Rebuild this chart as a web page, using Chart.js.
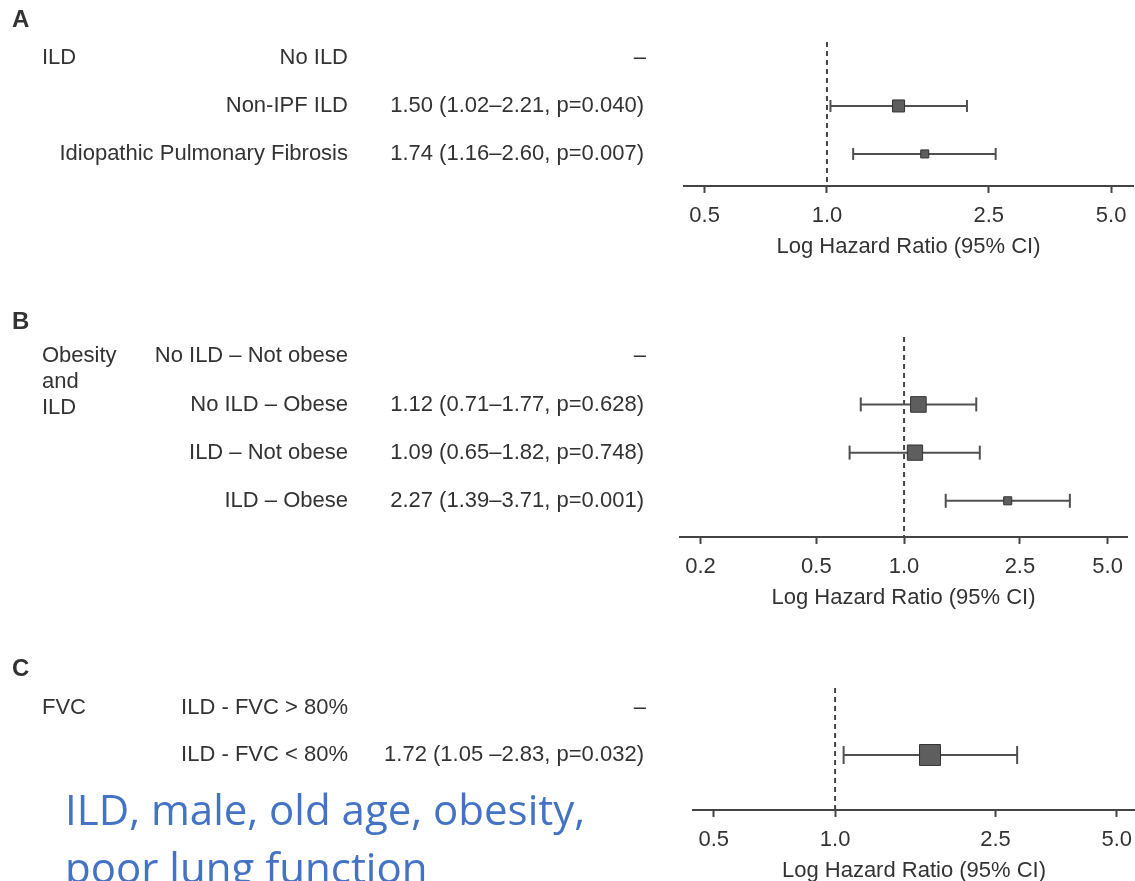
<!DOCTYPE html>
<html>
<head>
<meta charset="utf-8">
<title>Hazard ratio forest plots</title>
<script src="https://cdn.jsdelivr.net/npm/chart.js@4.4.1/dist/chart.umd.min.js"></script>
<style>
  html, body { margin: 0; padding: 0; background: #fff; overflow: hidden; }
  body { width: 1135px; height: 881px; position: relative; }
  canvas { position: absolute; left: 0; }
  #note {
    position: absolute; left: 65px; top: 780px;
    font-family: "Open Sans", sans-serif; font-size: 42px; line-height: 58px;
    color: #4472c4; white-space: nowrap;
  }
</style>
</head>
<body>
<canvas id="chartA" width="1135" height="280" style="top:0px"></canvas>
<canvas id="chartB" width="1135" height="330" style="top:290px"></canvas>
<canvas id="chartC" width="1135" height="260" style="top:640px"></canvas>
<div id="note">ILD, male, old age, obesity,<br>poor lung function</div>

<script>
// =============== DATA ===============
// A - ILD
const rowsA = ['No ILD', 'Non-IPF ILD', 'Idiopathic Pulmonary Fibrosis'];
const hrA = [null, 1.50, 1.74];
const loA = [null, 1.02, 1.16];
const hiA = [null, 2.21, 2.60];
const pA = [null, 0.040, 0.007];
const ticksA = [0.5, 1.0, 2.5, 5.0];

// B - obesity and ILD
const rowsB = ['No ILD – Not obese', 'No ILD – Obese', 'ILD – Not obese', 'ILD – Obese'];
const hrB = [null, 1.12, 1.09, 2.27];
const loB = [null, 0.71, 0.65, 1.39];
const hiB = [null, 1.77, 1.82, 3.71];
const pB = [null, 0.628, 0.748, 0.001];
const ticksB = [0.2, 0.5, 1.0, 2.5, 5.0];

// C - FVC
const rowsC = ['ILD - FVC > 80%', 'ILD - FVC < 80%'];
const hrC = [null, 1.72];
const loC = [null, 1.05];
const hiC = [null, 2.83];
const pC = [null, 0.032];
const ticksC = [0.5, 1.0, 2.5, 5.0];

const AXIS_TITLE = 'Log Hazard Ratio (95% CI)';
// ====================================

const TEXT = '#333';
const LINE = '#505050';
const FONT = '"Liberation Sans", Arial, Helvetica, sans-serif';
const AXIS_H = 69.4; // measured height of the x axis box (ticks + labels + title)

const panels = [
  { id: 'chartA', letter: 'A', group: ['ILD'], rows: rowsA, hr: hrA, lo: loA, hi: hiA, p: pA,
    ticks: ticksA, sep: '–', top: 0, height: 280,
    area: { left: 684, right: 1133, top: 42, bottom: 186 },
    xMin: 0.445, xMax: 5.66, yMin: -0.333, yMax: 2.667,
    box: [8.5, 5.7], cap: 6, letterY: 20 },
  { id: 'chartB', letter: 'B', group: ['Obesity', 'and', 'ILD'], rows: rowsB, hr: hrB, lo: loB, hi: hiB, p: pB,
    ticks: ticksB, sep: '–', top: 290, height: 330,
    area: { left: 680, right: 1127, top: 337, bottom: 537 },
    xMin: 0.170, xMax: 5.83, yMin: -0.4, yMax: 3.75,
    box: [11, 10.8, 5.7], cap: 7, letterY: 32 },
  { id: 'chartC', letter: 'C', group: ['FVC'], rows: rowsC, hr: hrC, lo: loC, hi: hiC, p: pC,
    ticks: ticksC, sep: ' –', top: 640, height: 260,
    area: { left: 693, right: 1135, top: 688, bottom: 810 },
    xMin: 0.444, xMax: 5.55, yMin: -0.426, yMax: 2.17,
    box: [14.8], cap: 9, letterY: 29 }
];

// Left-hand table (letter, group, subgroup label, HR text), aligned to the y scale rows
function tablePlugin(P) {
  return {
    id: 'forestTable',
    afterDraw(chart) {
      const ctx = chart.ctx;
      const y = chart.scales.y;
      ctx.save();
      ctx.fillStyle = TEXT;
      ctx.textBaseline = 'middle';

      ctx.font = 'bold 24px ' + FONT;
      ctx.textAlign = 'left';
      ctx.fillText(P.letter, 12, P.letterY);

      ctx.font = '22px ' + FONT;
      const y0 = y.getPixelForValue(0);
      P.group.forEach((g, k) => ctx.fillText(g, 42, y0 + k * 26));

      P.rows.forEach((label, i) => {
        const py = y.getPixelForValue(i);
        ctx.textAlign = 'right';
        ctx.fillText(label, 348, py);
        if (P.hr[i] == null) {
          ctx.fillText('–', 646, py);
        } else {
          const txt = P.hr[i].toFixed(2) + ' (' + P.lo[i].toFixed(2) + P.sep + P.hi[i].toFixed(2) +
                      ', p=' + P.p[i].toFixed(3) + ')';
          ctx.fillText(txt, 644, py);
        }
      });
      ctx.restore();
    }
  };
}

function buildChart(P) {
  const ctx = document.getElementById(P.id).getContext('2d');
  const idx = P.hr.map((v, i) => i).filter(i => P.hr[i] != null);

  const datasets = [];
  // point estimates (squares)
  datasets.push({
    data: idx.map(i => ({ x: P.hr[i], y: i })),
    pointStyle: 'rect',
    pointRadius: P.box,
    pointBackgroundColor: '#5e5e5e',
    pointBorderColor: '#333',
    pointBorderWidth: 1,
    order: 0
  });
  // confidence intervals with end caps
  idx.forEach(i => {
    datasets.push({
      data: [{ x: P.lo[i], y: i }, { x: P.hi[i], y: i }],
      showLine: true,
      borderColor: LINE,
      borderWidth: 2,
      pointStyle: 'line',
      pointRotation: 90,
      pointRadius: P.cap,
      pointBorderColor: LINE,
      pointBorderWidth: 2,
      order: 1
    });
  });
  // reference line at HR = 1
  datasets.push({
    data: [{ x: 1, y: P.yMin }, { x: 1, y: P.yMax }],
    showLine: true,
    borderColor: '#444',
    borderWidth: 2,
    borderDash: [5, 4],
    pointRadius: 0,
    order: 2
  });

  const relBottom = P.area.bottom - P.top;

  return new Chart(ctx, {
    type: 'scatter',
    data: { datasets: datasets },
    options: {
      responsive: false,
      animation: false,
      devicePixelRatio: 1,
      events: [],
      layout: {
        autoPadding: false,
        padding: {
          left: P.area.left,
          right: 1135 - P.area.right,
          top: P.area.top - P.top,
          bottom: P.height - relBottom - AXIS_H
        }
      },
      scales: {
        x: {
          type: 'logarithmic',
          position: 'bottom',
          min: P.xMin,
          max: P.xMax,
          afterBuildTicks: s => { s.ticks = P.ticks.map(v => ({ value: v })); },
          afterFit: s => { s.paddingLeft = 0; s.paddingRight = 0; },
          ticks: {
            autoSkip: false,
            maxRotation: 0,
            padding: 10,
            color: TEXT,
            font: { family: FONT, size: 22, lineHeight: 1.2 },
            callback: v => Number(v).toFixed(1)
          },
          grid: {
            drawOnChartArea: false,
            drawTicks: true,
            tickLength: 7,
            tickColor: '#444',
            tickWidth: 2
          },
          border: { display: true, color: '#444', width: 2 },
          title: {
            display: true,
            text: AXIS_TITLE,
            color: TEXT,
            font: { family: FONT, size: 22, lineHeight: 0.73 },
            padding: { top: 0, bottom: 0 }
          }
        },
        y: {
          type: 'linear',
          display: false,
          reverse: true,
          min: P.yMin,
          max: P.yMax
        }
      },
      plugins: {
        legend: { display: false },
        tooltip: { enabled: false }
      }
    },
    plugins: [tablePlugin(P)]
  });
}

panels.forEach(buildChart);
</script>
</body>
</html>
